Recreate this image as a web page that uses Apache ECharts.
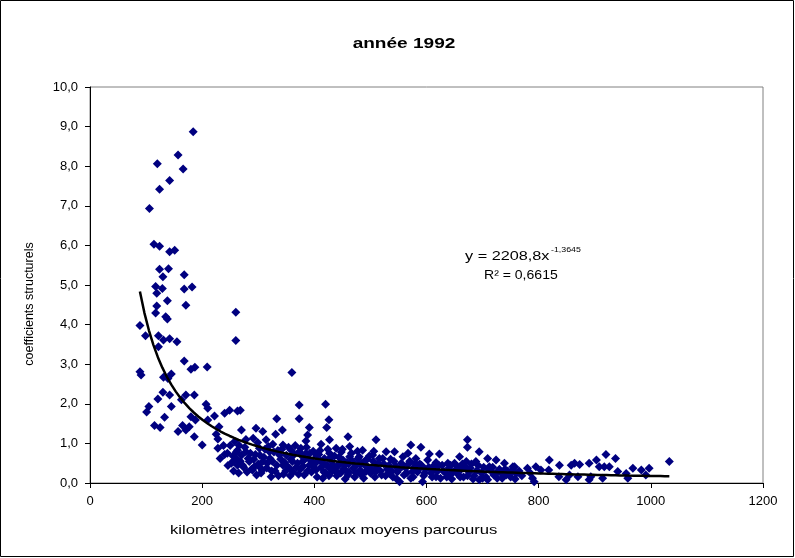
<!DOCTYPE html>
<html><head><meta charset="utf-8">
<script src="https://cdn.jsdelivr.net/npm/echarts@6/dist/echarts.min.js"></script>
<style>html,body{margin:0;padding:0;background:#fff}#c{width:795px;height:558px}</style>
</head><body><div id="c"></div>
<script>
// observed points: [km, coefficient]
const pointsHigh = [
 [184,8.87],[157,8.28],[120,8.06],[166,7.93],[142,7.64],[124,7.42],[106,6.93],
 [114,6.03],[124,5.98],[142,5.84],[151,5.88],[124,5.40],[140,5.41],[130,5.21],[168,5.26],
 [117,4.96],[129,4.91],[168,4.90],[182,4.95],[119,4.79],[138,4.60],[119,4.47],[171,4.49],
 [117,4.29],[135,4.20],[138,4.14],[260,4.31],[89,3.98],[99,3.72],[122,3.72],[131,3.61],
 [142,3.64],[155,3.57],[122,3.44],[260,3.60],[168,3.08],[180,2.87],[187,2.92],[209,2.93],
 [89,2.81],[91,2.73],[131,2.67],[145,2.75],[139,2.64],[360,2.79],[373,1.97],[373,1.62]
];
const pointsMid = [
 [130,2.29],[142,2.22],[121,2.12],[171,2.22],[186,2.22],[163,2.10],[145,1.93],[105,1.93],
 [101,1.79],[207,1.99],[210,1.89],[133,1.66],[180,1.67],[188,1.59],[222,1.69],[240,1.76],
 [249,1.84],[263,1.82],[115,1.45],[125,1.40],[165,1.45],[177,1.42],[157,1.30],[171,1.34],
 [210,1.59],[230,1.42],[225,1.23],[228,1.11],[186,1.17],[200,0.96],[228,0.88],[240,0.72],
 [263,0.83],[252,0.50],[246,0.44],[263,0.45],[268,1.84],[420,1.99],[333,1.62],[426,1.60],
 [270,1.34],[296,1.38],[308,1.30],[343,1.34],[331,1.23],[391,1.40],[422,1.40],[291,1.13],
 [314,1.09],[460,1.17],[510,1.09],[388,1.21],[427,1.09],[412,0.98],[385,1.06],[326,0.98],
 [344,0.96],[359,0.83],[278,0.79],[302,0.88],[320,0.79],[338,0.71],[373,0.79],[385,0.75],
 [427,0.75],[439,0.88],[463,0.92],[486,0.83],[504,0.71]
];
const pointsLow = [
 [284,0.54],[272,0.45],[293,0.41],[308,0.54],[344,0.45],[361,0.54],[379,0.54],[391,0.45],
 [255,0.54],[323,0.16],[356,0.37],[403,0.33],[415,0.12],[427,0.37],[445,0.50],[460,0.20],
 [475,0.45],[492,0.29],[510,0.45],[463,0.66],[480,0.66],[492,0.58],[451,0.58],[409,0.58],
 [290,0.33],[302,0.41],
 [232,0.62],[238,0.95],[245,0.75],[255,0.68],[258,1.05],[262,0.60],[266,0.95],[270,0.70],
 [274,0.40],[278,1.10],
 [282,0.62],[288,0.35],[295,0.72],[300,0.48],[305,0.25],[310,0.65],[315,0.38],[318,0.92],
 [325,0.55],[330,0.30],[335,0.82],[340,0.60],[345,0.22],[350,0.70],[352,0.42],[358,0.60],
 [362,0.28],[366,0.95],[370,0.50],[375,0.35],[378,0.68],[382,0.20],[386,0.90],[390,0.62],
 [395,0.28],[398,0.80],[402,0.50],[405,0.15],[408,0.72],[412,0.40],[418,0.62],[420,0.25],
 [424,0.85],[430,0.55],[432,0.30],[436,0.68],[440,0.18],[442,0.42],[448,0.78],[452,0.35],
 [455,0.10],[458,0.52],[462,0.28],[466,0.75],[470,0.38],[472,0.15],[478,0.62],[482,0.32],
 [485,0.50],[488,0.12],[494,0.60],[496,0.40],[500,0.25],[505,0.55],[508,0.15],[512,0.36],
 [516,0.62],[520,0.20]
];
const pointsDense = [
 [250,0.95],[256,0.30],[261,0.78],[265,0.25],[268,0.55],[276,0.90],[280,0.28],[286,0.75],
 [292,0.60],[297,0.20],[299,1.02],[303,0.70],[307,0.32],[312,0.85],[316,0.50],[321,0.62],
 [324,0.30],[328,0.78],[333,0.45],[336,0.18],[342,0.85],[347,0.52],[349,0.30],[354,0.90],
 [357,0.18],[364,0.72],[368,0.40],[372,0.22],[376,0.88],[380,0.42],[384,0.62],[388,0.30],
 [392,0.75],[396,0.55],[400,0.38],[404,0.68],[410,0.82],[414,0.52],[417,0.28],[422,0.45],
 [426,0.18],[429,0.65],[434,0.45],[438,0.30],[444,0.65],[447,0.25],[450,0.85],[454,0.45],
 [457,0.30],[461,0.48],[468,0.55],[474,0.25],[477,0.80],[481,0.48],[484,0.20],[490,0.45],
 [498,0.68],[502,0.35],[506,0.80],[514,0.50],[518,0.30],
 [522,0.62],[527,0.18],[533,0.45],[538,0.30],[542,0.55],[547,0.10],[551,0.35],[557,0.42],
 [565,0.25],[568,0.48],[576,0.15],[580,0.50],[586,0.35],[591,0.45],[597,0.25],[604,0.40],
 [610,0.15],[615,0.35],[622,0.45],[630,0.30],[636,0.15],[643,0.45],[648,0.28],[654,0.42],
 [660,0.15],[664,0.48],[678,0.38],[683,0.10],[692,0.45],[700,0.12],[710,0.35],[718,0.40],
 [726,0.12],[733,0.25],[740,0.35],[752,0.30],[758,0.10]
];
const pointsTail = [
 [572,0.96],[590,0.90],[673,1.09],[673,0.90],[694,0.79],[623,0.73],[605,0.73],[659,0.66],
 [709,0.62],[724,0.58],[543,0.79],[528,0.79],[739,0.50],[757,0.41],[558,0.66],[567,0.75],
 [581,0.62],[617,0.52],[638,0.50],[688,0.54],[671,0.54],[712,0.41],[510,0.29],[534,0.24],
 [552,0.03],[593,0.03],[617,0.16],[641,0.20],[673,0.18],[694,0.08],[709,0.08],[724,0.24],
 [742,0.20],[760,0.24],[575,0.29],[653,0.33],
 [524,0.48],[530,0.35],[536,0.60],[540,0.15],[545,0.42],[548,0.28],[555,0.50],[560,0.20],
 [563,0.38],[570,0.55],[572,0.12],[578,0.40],[584,0.28],[588,0.48],[595,0.18],[598,0.35],
 [602,0.58],[608,0.25],[612,0.42],[620,0.30],[625,0.12],[628,0.45],[634,0.25],[640,0.38],
 [645,0.10],[650,0.50],[656,0.22],[662,0.35],[666,0.15],[670,0.40],[676,0.28],[680,0.48],
 [685,0.18],[690,0.32],[698,0.25],[702,0.40],[706,0.15],[715,0.30],[720,0.20],[730,0.35],
 [735,0.12],[745,0.30],[750,0.15],[765,0.30],[770,0.18],[785,0.25],
 [754,0.41],[780,0.37],[795,0.41],[804,0.33],[789,0.12],[792,0.03],[819,0.58],[818,0.33],
 [836,0.16],[849,0.08],[858,0.45],[864,0.50],[873,0.47],[870,0.16],[890,0.50],[893,0.16],
 [903,0.58],[908,0.41],[920,0.72],[917,0.41],[926,0.41],[937,0.62],[941,0.29],[914,0.12],
 [956,0.24],[968,0.37],[983,0.33],[997,0.37],[991,0.20],[959,0.12],[1033,0.54],[748,0.24],
 [837,0.45],[855,0.20],[890,0.08]
];
const xTickLabels = ['0','200','400','600','800','1000','1200'];
const yTickLabels = ['0,0','1,0','2,0','3,0','4,0','5,0','6,0','7,0','8,0','9,0','10,0'];
// power trendline shown in the chart: y = 2208,8 x^-1,3645
const trendA = 2208.8;
const trendB = -1.3645;

const points = pointsHigh.concat(pointsMid, pointsLow, pointsDense, pointsTail);
const xs = points.map(p => p[0]);
const xMin = Math.min(...xs), xMax = Math.max(...xs);
const trend = [];
for (let x = xMin; x < xMax; x += 8) trend.push([x, trendA * Math.pow(x, trendB)]);
trend.push([xMax, trendA * Math.pow(xMax, trendB)]);

const FONT = 'Liberation Sans';
const chart = echarts.init(document.getElementById('c'), null, {renderer: 'canvas'});
chart.setOption({
  animation: false,
  backgroundColor: '#fff',
  grid: {left: 90, right: 32, top: 87, bottom: 75, show: true, borderColor: '#808080', borderWidth: 1, backgroundColor: '#fff'},
  xAxis: {
    type: 'value', min: 0, max: 1200, interval: 200,
    axisLine: {show: true, onZero: false, lineStyle: {color: '#000', width: 1}},
    axisTick: {show: true, inside: false, length: 5, lineStyle: {color: '#000'}},
    splitLine: {show: false},
    axisLabel: {color: '#000', fontFamily: FONT, fontSize: 13, margin: 12,
      formatter: v => xTickLabels[Math.round(v / 200)]}
  },
  yAxis: {
    type: 'value', min: 0, max: 10, interval: 1,
    axisLine: {show: true, onZero: false, lineStyle: {color: '#000', width: 1}},
    axisTick: {show: true, inside: false, length: 5, lineStyle: {color: '#000'}},
    splitLine: {show: false},
    axisLabel: {color: '#000', fontFamily: FONT, fontSize: 13, margin: 12,
      formatter: v => yTickLabels[Math.round(v)]}
  },
  series: [
    {type: 'scatter', data: points, symbol: 'diamond', symbolSize: [9, 9],
     itemStyle: {color: '#000080', opacity: 1}, z: 2},
    {type: 'line', data: trend, showSymbol: false, symbol: 'none', smooth: false,
     lineStyle: {color: '#000', width: 2.5}, z: 3}
  ],
  graphic: [
    {type: 'rect', shape: {x: 0.5, y: 0.5, width: 793, height: 556}, style: {fill: 'none', stroke: '#000', lineWidth: 1}, silent: true, z: 100},
    {type: 'text', x: 404, y: 44, scaleX: 1.27, style: {text: 'année 1992', font: 'bold 15px "Liberation Sans"', fill: '#000', textAlign: 'center', textVerticalAlign: 'middle'}},
    {type: 'text', x: 170, y: 530, scaleX: 1.28, style: {text: 'kilomètres interrégionaux moyens parcourus', font: '13px "Liberation Sans"', fill: '#000', textAlign: 'left', textVerticalAlign: 'middle'}},
    {type: 'text', x: 30, y: 304, rotation: Math.PI / 2, style: {text: 'coefficients structurels', font: '12.5px "Liberation Sans"', fill: '#000', textAlign: 'center', textVerticalAlign: 'middle'}},
    {type: 'text', x: 465, y: 256, scaleX: 1.25, style: {text: 'y = 2208,8x', font: '13px "Liberation Sans"', fill: '#000', textAlign: 'left', textVerticalAlign: 'middle'}},
    {type: 'text', x: 551, y: 250, scaleX: 1.1, style: {text: '-1,3645', font: '8px "Liberation Sans"', fill: '#000', textAlign: 'left', textVerticalAlign: 'middle'}},
    {type: 'text', x: 484, y: 275, scaleX: 1.08, style: {text: 'R² = 0,6615', font: '13px "Liberation Sans"', fill: '#000', textAlign: 'left', textVerticalAlign: 'middle'}}
  ]
});
</script></body></html>
